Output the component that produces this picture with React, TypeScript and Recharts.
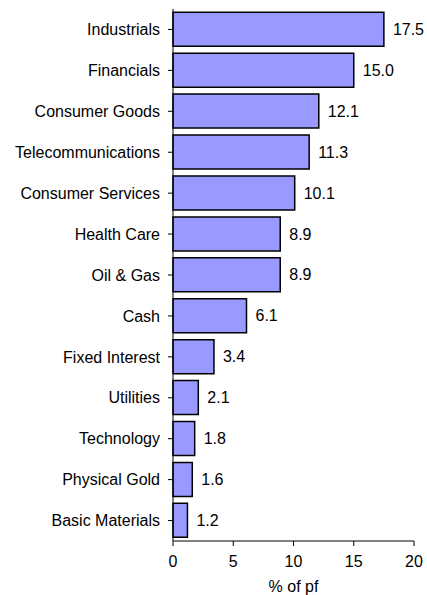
import { Bar, BarChart, XAxis, YAxis, LabelList } from "recharts"

const sectors = [
  "Industrials",
  "Financials",
  "Consumer Goods",
  "Telecommunications",
  "Consumer Services",
  "Health Care",
  "Oil & Gas",
  "Cash",
  "Fixed Interest",
  "Utilities",
  "Technology",
  "Physical Gold",
  "Basic Materials",
]
const weights = [17.5, 15.0, 12.1, 11.3, 10.1, 8.9, 8.9, 6.1, 3.4, 2.1, 1.8, 1.6, 1.2]
const xTicks = [0, 5, 10, 15, 20]

const data = sectors.map((name, i) => ({ name, value: weights[i] }))

const font = "Liberation Sans, Arial, sans-serif"

export default function App() {
  return (
    <div style={{ position: "absolute", left: 0, top: 0, background: "#fff" }}>
      <BarChart
        width={427}
        height={595}
        data={data}
        layout="vertical"
        margin={{ top: 9, right: 13, bottom: 0, left: 0 }}
        barCategoryGap="8%"
      >
        <XAxis
          type="number"
          domain={[0, 20]}
          ticks={xTicks}
          height={54}
          stroke="#000"
          tickSize={5}
          tickMargin={10}
          tick={{ fill: "#000", fontSize: 16, fontFamily: font }}
          label={{ value: "% of pf", position: "insideBottom", offset: 3, fill: "#000", fontSize: 16, fontFamily: font }}
        />
        <YAxis
          type="category"
          dataKey="name"
          width={173}
          stroke="#000"
          tickSize={5}
          tickMargin={8}
          interval={0}
          tick={{ fill: "#000", fontSize: 16, fontFamily: font }}
        />
        <Bar dataKey="value" fill="#9999FF" stroke="#000" strokeWidth={1.5} isAnimationActive={false}>
          <LabelList
            dataKey="value"
            position="right"
            offset={9}
            formatter={(v: number) => v.toFixed(1)}
            style={{ fill: "#000", fontSize: 16, fontFamily: font }}
          />
        </Bar>
      </BarChart>
    </div>
  )
}
